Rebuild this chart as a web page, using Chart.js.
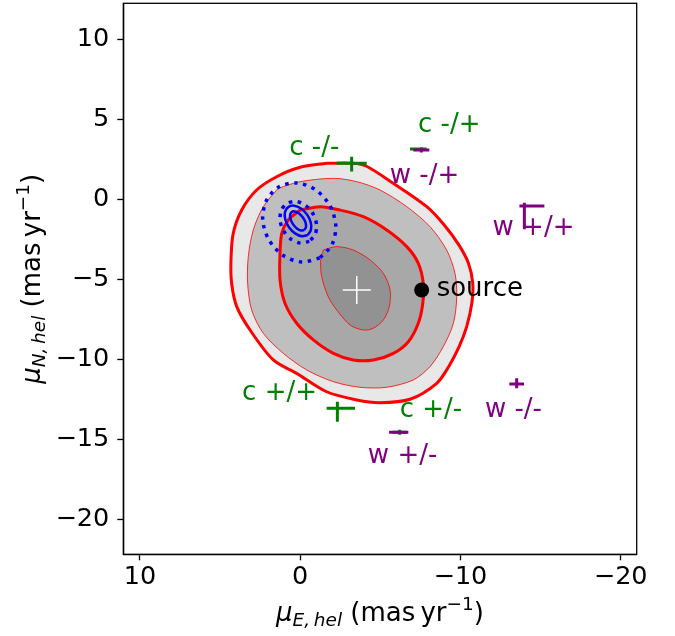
<!DOCTYPE html>
<html><head><meta charset="utf-8">
<script src="https://cdn.jsdelivr.net/npm/chart.js@4"></script>
<style>html,body{margin:0;padding:0;background:#fff;}canvas{display:block;}</style>
</head><body>
<canvas id="c" width="675" height="636"></canvas>
<script>
// ---------------- data ----------------
const xTicks = [10, 0, -10, -20];
const yTicks = [10, 5, 0, -5, -10, -15, -20];

// probability contours (outer -> inner), [muE, muN]
const level1 = [[-1.65,2.25],[-3.31,2.25],[-4.11,2.08],[-5.81,1.00],[-7.90,-0.46],[-9.00,-1.62],[-9.90,-2.85],[-10.50,-4.00],[-10.77,-5.25],[-10.71,-6.50],[-10.39,-7.96],[-9.91,-9.23],[-9.29,-10.42],[-8.52,-11.50],[-6.85,-12.50],[-4.98,-12.71],[-3.53,-12.54],[-1.65,-12.03],[0.22,-10.88],[1.68,-10.04],[3.13,-8.17],[3.96,-6.71],[4.28,-5.25],[4.32,-3.79],[4.18,-2.13],[3.65,-0.67],[2.72,0.58],[1.47,1.41],[0.01,2.00]];
const level2 = [[1.37,0.69],[0.01,1.10],[-2.07,1.31],[-3.53,1.10],[-4.98,0.58],[-6.65,-0.46],[-8.10,-1.71],[-9.14,-3.17],[-9.66,-4.63],[-9.77,-6.09],[-9.56,-7.75],[-8.93,-9.21],[-8.10,-10.46],[-7.06,-11.29],[-5.40,-11.75],[-3.73,-11.75],[-2.07,-11.40],[-0.41,-10.67],[1.05,-9.63],[2.30,-8.38],[3.03,-6.92],[3.28,-5.25],[3.24,-3.59],[2.93,-1.92],[2.30,-0.46]];
const level3 = [[0.01,-0.67],[-1.24,-0.46],[-2.48,-0.67],[-3.94,-1.09],[-5.40,-1.92],[-6.65,-2.96],[-7.37,-4.00],[-7.68,-5.25],[-7.65,-6.50],[-7.37,-7.75],[-6.75,-8.90],[-5.81,-9.63],[-4.56,-10.04],[-3.31,-10.04],[-2.07,-9.63],[-0.82,-8.79],[0.22,-7.75],[0.95,-6.50],[1.26,-5.04],[1.26,-3.38],[1.15,-2.13],[0.74,-1.29]];
const level4 = [[-1.44,-3.17],[-2.28,-2.96],[-3.31,-3.17],[-4.36,-3.79],[-5.19,-4.63],[-5.61,-5.67],[-5.56,-6.71],[-5.19,-7.54],[-4.56,-8.06],[-3.94,-8.17],[-3.11,-7.86],[-2.28,-6.92],[-1.75,-6.09],[-1.34,-4.84],[-1.28,-3.79]];

// blue contours
const blueSolidOuter = [[-0.47,-2.23],[-0.11,-2.31],[0.32,-2.13],[0.70,-1.75],[0.93,-1.26],[0.95,-0.80],[0.75,-0.49],[0.38,-0.40],[-0.05,-0.58],[-0.43,-0.96],[-0.66,-1.45],[-0.67,-1.91]];
const blueSolidInner = [[-0.26,-1.92],[-0.05,-1.95],[0.21,-1.82],[0.44,-1.57],[0.60,-1.26],[0.63,-0.98],[0.53,-0.79],[0.33,-0.76],[0.07,-0.89],[-0.17,-1.14],[-0.33,-1.45],[-0.36,-1.74]];
const blueDotInner = [[-0.57,-2.63],[-0.02,-2.74],[0.57,-2.50],[1.04,-1.97],[1.26,-1.30],[1.17,-0.67],[0.81,-0.25],[0.26,-0.14],[-0.33,-0.38],[-0.80,-0.91],[-1.02,-1.58],[-0.93,-2.21]];
const blueDotOuter = [[-1.22,-3.67],[-0.10,-3.92],[1.06,-3.51],[1.95,-2.54],[2.34,-1.29],[2.11,-0.08],[1.34,0.77],[0.22,1.02],[-0.94,0.61],[-1.83,-0.36],[-2.22,-1.61],[-1.99,-2.83]];

// c-solutions (green)
const cLabels = ['c -/-', 'c -/+', 'c +/+', 'c +/-'];
const cX = [-3.21, -7.37, -2.32, -6.21];
const cY = [2.25, 3.14, -13.06, -14.56];
const cXErrLo = [0.94, 0.52, 1.10, 0.44];
const cXErrHi = [0.93, 0.52, 0.67, 0.44];
const cYErrLo = [0.52, 0.10, 0.84, 0.16];
const cYErrHi = [0.41, 0.10, 0.41, 0.16];
const cLabelX = [-0.88, -9.30, 1.29, -8.16];
const cLabelY = [3.21, 4.64, -12.11, -13.17];

// w-solutions (purple)
const wLabels = ['w -/+', 'w +/+', 'w -/-', 'w +/-'];
const wX = [-7.56, -13.99, -13.51, -6.15];
const wY = [3.08, -0.42, -11.54, -14.56];
const wXErrLo = [0.50, 1.25, 0.46, 0.60];
const wXErrHi = [0.50, 0.31, 0.46, 0.60];
const wYErrLo = [0.16, 1.45, 0.27, 0.10];
const wYErrHi = [0.16, 0.21, 0.35, 0.10];
const wLabelX = [-7.76, -14.56, -13.31, -6.39];
const wLabelY = [1.43, -1.83, -13.17, -16.07];

// best-fit and source
const bestX = [-3.53], bestY = [-5.67];
const sourceX = [-7.58], sourceY = [-5.67];
const sourceLabel = 'source';

// ---------------- build ----------------
const FONT = '"DejaVu Sans", sans-serif';
function closed(arr){ const p = arr.map(([x,y])=>({x,y})); p.push({x:arr[0][0], y:arr[0][1]}); return p; }
function contour(arr, fillColor, lw, dash, color){
  return {type:'scatter', showLine:true, data:closed(arr), tension:0.3,
    backgroundColor: fillColor || 'rgba(0,0,0,0)', fill: fillColor ? 'shape' : false,
    borderColor: color || '#ff0000', borderWidth: lw, borderDash: dash || [], pointRadius:0, pointHoverRadius:0};
}
function crosses(X, Y, xl, xh, yl, yh, color, lw){
  const pts = [];
  for (let i=0;i<X.length;i++){
    pts.push({x:X[i]-xl[i], y:Y[i]}, {x:X[i]+xh[i], y:Y[i]}, {x:null,y:null},
             {x:X[i], y:Y[i]-yl[i]}, {x:X[i], y:Y[i]+yh[i]}, {x:null,y:null});
  }
  return {type:'scatter', showLine:true, spanGaps:false, data:pts, borderColor:color, borderWidth:lw,
    pointRadius:0, pointHoverRadius:0, fill:false, tension:0};
}
const datasets = [
  contour(level1, '#e8e8e8', 3),
  contour(level2, '#bfbfbf', 0.8),
  contour(level3, '#a8a8a8', 3),
  contour(level4, '#929292', 0.8),
  contour(blueDotOuter, null, 3.5, [3.5,5.5], '#0000ff'),
  contour(blueDotInner, null, 3.5, [3.5,5.5], '#0000ff'),
  contour(blueSolidOuter, null, 2.5, null, '#0000ff'),
  contour(blueSolidInner, null, 2.5, null, '#0000ff'),
  crosses(cX, cY, cXErrLo, cXErrHi, cYErrLo, cYErrHi, '#008000', 3),
  crosses(wX, wY, wXErrLo, wXErrHi, wYErrLo, wYErrHi, '#800080', 3),
  {type:'scatter', data: sourceX.map((v,i)=>({x:v,y:sourceY[i]})), pointRadius:7.5, pointStyle:'circle', backgroundColor:'#000', borderColor:'#000', borderWidth:0},
  {type:'scatter', data: bestX.map((v,i)=>({x:v,y:bestY[i]})), pointRadius:14, pointStyle:'cross', borderColor:'#fff', borderWidth:1.5}
];
datasets.forEach((d,i)=>{ d.order = datasets.length - i; });

function fmt(v){ return v < 0 ? '\u2212' + Math.abs(v) : String(v); }

function drawRich(ctx, parts, cx, baseY){
  let w = 0;
  for (const p of parts){ ctx.font = p.f; w += ctx.measureText(p.t).width; }
  let x = cx - w/2;
  ctx.textAlign = 'left'; ctx.textBaseline = 'alphabetic';
  for (const p of parts){ ctx.font = p.f; ctx.fillText(p.t, x, baseY + (p.dy||0)); x += ctx.measureText(p.t).width; }
}
function titleParts(sub){
  return [
    {t:'\u03bc', f:'italic 26px ' + FONT},
    {t:sub, f:'italic 18.5px ' + FONT, dy:5},
    {t:' (mas\u2009yr', f:'26px ' + FONT},
    {t:'\u22121', f:'18.5px ' + FONT, dy:-11},
    {t:')', f:'26px ' + FONT}
  ];
}

const overlay = {
  id:'overlay',
  afterDraw(chart){
    const {ctx, chartArea:a, scales:{x, y}} = chart;
    ctx.save();
    ctx.font = '26px ' + FONT; ctx.textAlign = 'center'; ctx.textBaseline = 'middle';
    ctx.fillStyle = '#008000';
    cLabels.forEach((t,i)=> ctx.fillText(t, x.getPixelForValue(cLabelX[i]), y.getPixelForValue(cLabelY[i])));
    ctx.fillStyle = '#800080';
    wLabels.forEach((t,i)=> ctx.fillText(t, x.getPixelForValue(wLabelX[i]), y.getPixelForValue(wLabelY[i])));
    ctx.fillStyle = '#000'; ctx.textAlign = 'left';
    ctx.fillText(sourceLabel, x.getPixelForValue(sourceX[0]) + 15, y.getPixelForValue(sourceY[0]) - 1);
    ctx.strokeStyle = '#000'; ctx.lineWidth = 1.3;
    ctx.strokeRect(a.left, a.top, a.right - a.left, a.bottom - a.top);
    ctx.fillStyle = '#000';
    drawRich(ctx, titleParts('E,\u2009hel'), (a.left + a.right)/2, 621);
    ctx.translate(40, (a.top + a.bottom)/2);
    ctx.rotate(-Math.PI/2);
    drawRich(ctx, titleParts('N,\u2009hel'), 0, 0);
    ctx.restore();
  }
};

const axisCommon = {
  type:'linear',
  grid:{display:true, drawOnChartArea:false, drawTicks:true, tickLength:6, tickWidth:1.3, tickColor:'#000'},
  border:{display:true, color:'#000', width:1.3},
  title:{display:false}
};

new Chart(document.getElementById('c'), {
  type:'scatter',
  data:{datasets},
  options:{
    responsive:false, animation:false, devicePixelRatio:1,
    layout:{autoPadding:false, padding:{top:3.3, right:38.3, left:0, bottom:0}},
    plugins:{legend:{display:false}, tooltip:{enabled:false}},
    elements:{line:{borderCapStyle:'butt'}},
    scales:{
      x:Object.assign({}, axisCommon, {
        position:'bottom', reverse:true, min:-21.0, max:11.04,
        afterBuildTicks(s){ s.ticks = xTicks.map(v=>({value:v})); },
        afterFit(s){ s.height = 636 - 554.3; s.paddingLeft = 0; s.paddingRight = 0; s.paddingTop = 0; s.paddingBottom = 0; },
        ticks:{color:'#000', font:{family:FONT, size:25.5}, padding:2, maxRotation:0, autoSkip:false, callback:fmt}
      }),
      y:Object.assign({}, axisCommon, {
        position:'left', min:-22.19, max:12.25,
        afterBuildTicks(s){ s.ticks = yTicks.map(v=>({value:v})); },
        afterFit(s){ s.width = 123.3; s.paddingTop = 0; s.paddingBottom = 0; s.paddingLeft = 0; s.paddingRight = 0; },
        ticks:{color:'#000', font:{family:FONT, size:25.5}, padding:8, autoSkip:false, callback:fmt}
      })
    }
  },
  plugins:[overlay]
});
</script>
</body></html>
